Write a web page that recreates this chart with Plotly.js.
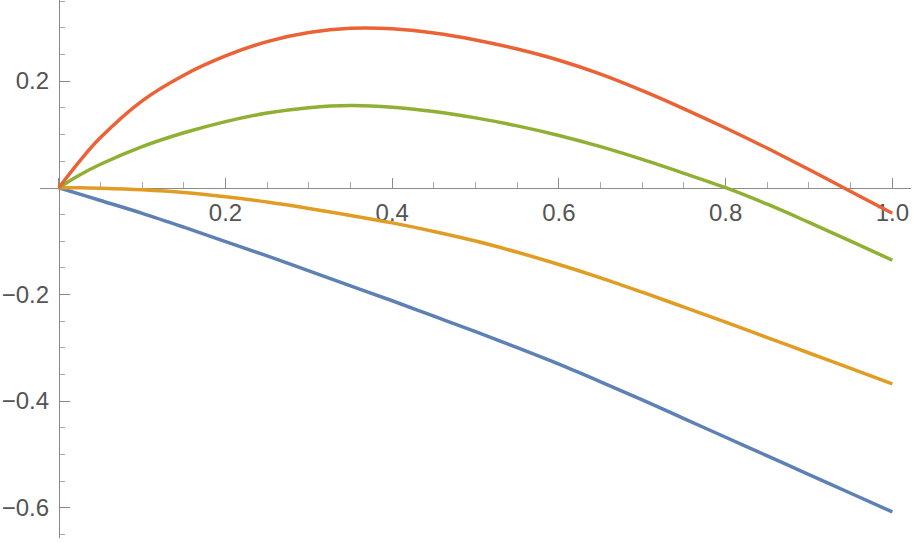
<!DOCTYPE html>
<html>
<head>
<meta charset="utf-8">
<script src="https://cdn.plot.ly/plotly-3.0.1.min.js"></script>
<style>html,body{margin:0;padding:0;background:#fff;}#chart{width:914px;height:543px;}</style>
</head>
<body>
<div id="chart"></div>
<script>
// x samples
const xs = [0, 0.025, 0.05, 0.1, 0.15, 0.2, 0.25, 0.3, 0.35, 0.4, 0.45, 0.5, 0.55, 0.6, 0.65, 0.7, 0.75, 0.8, 0.85, 0.9, 0.95, 1.0];
// series values
const blue   = [0, -0.012, -0.024, -0.048, -0.074, -0.101, -0.128, -0.156, -0.184, -0.212, -0.241, -0.270, -0.300, -0.331, -0.364, -0.398, -0.433, -0.468, -0.503, -0.538, -0.573, -0.608];
const orange = [0, 0.000, -0.001, -0.004, -0.009, -0.017, -0.027, -0.039, -0.052, -0.066, -0.082, -0.100, -0.121, -0.144, -0.169, -0.196, -0.224, -0.252, -0.281, -0.310, -0.339, -0.368];
const green  = [0, 0.024, 0.044, 0.077, 0.103, 0.124, 0.140, 0.150, 0.154, 0.151, 0.143, 0.131, 0.116, 0.098, 0.077, 0.053, 0.027, 0.000, -0.031, -0.065, -0.100, -0.136];
const red    = [0, 0.050, 0.094, 0.163, 0.211, 0.247, 0.274, 0.291, 0.299, 0.298, 0.290, 0.277, 0.260, 0.239, 0.213, 0.182, 0.148, 0.112, 0.074, 0.034, -0.007, -0.048];

const seriesNames = ['blue', 'orange', 'green', 'red'];
const seriesData = [blue, orange, green, red];
const colors = ['#5E81B5', '#E19C24', '#8FB032', '#EB6235'];

const xRange = [-0.0226, 1.0224];
const yRange = [-0.6569, 0.3520];

const traces = seriesData.map((ys, i) => ({
  x: xs, y: ys, type: 'scatter', mode: 'lines', name: seriesNames[i],
  line: {color: colors[i], width: 3.5, shape: 'spline', smoothing: 1},
  hoverinfo: 'skip'
}));

const tickFont = {family: '"Liberation Sans", Arial, sans-serif', size: 24, color: '#555555'};
const xPos = (0 - yRange[0]) / (yRange[1] - yRange[0]);
const yPos = (0 - xRange[0]) / (xRange[1] - xRange[0]);

const layout = {
  width: 914, height: 543,
  margin: {l: 40, r: 3, t: 0, b: 5, pad: 0},
  paper_bgcolor: '#fff', plot_bgcolor: '#fff',
  showlegend: false,
  xaxis: {
    range: xRange, anchor: 'free', position: xPos,
    showgrid: false, zeroline: false,
    showline: true, linecolor: '#8a8a8a', linewidth: 1,
    tickmode: 'linear', tick0: 0, dtick: 0.2, tickformat: '.1f',
    labelalias: {'0.0': ''},
    ticks: 'inside', ticklen: 10, tickcolor: '#8a8a8a', tickwidth: 1,
    minor: {ticks: 'inside', ticklen: 6, tickcolor: '#a8a8a8', tickwidth: 1, dtick: 0.05, tick0: 0, showgrid: false},
    tickfont: tickFont, ticklabelstandoff: 3,
    layer: 'below traces', fixedrange: true
  },
  yaxis: {
    range: yRange, anchor: 'free', position: yPos,
    showgrid: false, zeroline: false,
    showline: true, linecolor: '#8a8a8a', linewidth: 1,
    tickmode: 'linear', tick0: 0, dtick: 0.2, tickformat: '.1f',
    labelalias: {'0.0': ''},
    ticks: 'inside', ticklen: 10, tickcolor: '#8a8a8a', tickwidth: 1,
    minor: {ticks: 'inside', ticklen: 5, tickcolor: '#a8a8a8', tickwidth: 1, dtick: 0.05, tick0: 0, showgrid: false},
    tickfont: tickFont, ticklabelstandoff: 5,
    layer: 'below traces', fixedrange: true
  }
};

Plotly.newPlot('chart', traces, layout, {staticPlot: true, displayModeBar: false});
</script>
</body>
</html>
